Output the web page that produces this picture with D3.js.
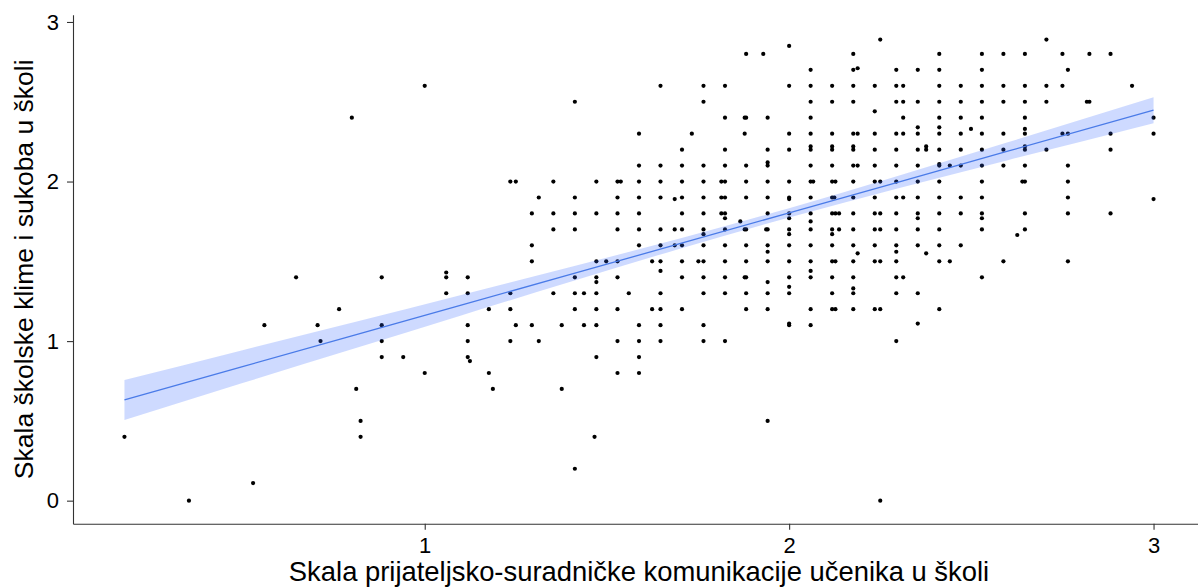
<!DOCTYPE html>
<html><head><meta charset="utf-8">
<script src="https://cdn.jsdelivr.net/npm/d3@7"></script>
<style>body{margin:0;background:#fff}svg{display:block}</style>
</head><body><svg id="c" width="1198" height="588"></svg>
<script>
const xTicks = [1, 2, 3];
const yTicks = [0, 1, 2, 3];
const xTitle = "Skala prijateljsko-suradničke komunikacije učenika u školi";
const yTitle = "Skala školske klime i sukoba u školi";

const points = [
[0.176,0.4],[0.353,0],[0.529,0.11],[0.56,1.1],[0.647,1.4],[0.706,1.1],[0.714,1.0],[0.765,1.2],[0.8,2.4],[0.812,0.7],[0.824,0.5],[0.824,0.4],[0.882,1.4],[0.882,1.1],[0.882,1.0],[0.882,0.9],[0.941,0.9],
[1.0,2.6],[1.0,0.8],
[1.059,1.43],[1.059,1.4],[1.059,1.3],
[1.118,1.4],[1.118,1.3],[1.118,1.1],[1.118,1.0],[1.118,0.9],[1.124,0.875],
[1.176,1.2],[1.176,0.8],[1.187,0.7],
[1.235,2.0],[1.235,1.3],[1.235,1.2],[1.235,1.0],[1.25,2.0],[1.25,1.1],
[1.294,1.8],[1.294,1.6],[1.294,1.5],[1.294,1.1],[1.313,1.9],[1.313,1.0],
[1.353,2.0],[1.353,1.8],[1.353,1.7],[1.353,1.3],[1.376,1.1],[1.376,0.7],
[1.412,2.5],[1.412,1.9],[1.412,1.8],[1.412,1.7],[1.412,1.4],[1.412,1.3],[1.412,1.2],[1.412,0.2],
[1.437,1.3],[1.437,1.1],
[1.471,2.0],[1.471,1.8],[1.471,1.5],[1.471,1.4],[1.471,1.37],[1.471,1.3],[1.471,1.2],[1.471,1.1],[1.471,0.9],[1.466,0.4],[1.498,1.5],
[1.529,2.0],[1.529,1.9],[1.529,1.8],[1.529,1.7],[1.529,1.5],[1.529,1.4],[1.529,1.2],[1.529,1.0],[1.529,0.8],[1.538,2.0],[1.56,1.3],
[1.588,2.3],[1.588,2.1],[1.588,2.0],[1.588,1.9],[1.588,1.8],[1.588,1.7],[1.588,1.6],[1.588,1.1],[1.588,1.0],[1.588,0.9],[1.588,0.8],
[1.624,1.5],[1.624,1.2],
[1.647,2.6],[1.647,2.1],[1.647,2.0],[1.647,1.9],[1.647,1.7],[1.647,1.6],[1.647,1.5],[1.647,1.44],[1.647,1.3],[1.647,1.2],[1.647,1.1],[1.647,1.0],
[1.686,1.89],[1.686,1.7],[1.686,1.6],
[1.706,2.2],[1.706,2.1],[1.706,2.0],[1.706,1.9],[1.706,1.8],[1.706,1.7],[1.706,1.6],[1.706,1.5],[1.706,1.4],[1.706,1.2],
[1.733,2.3],[1.751,1.5],
[1.765,2.6],[1.765,2.5],[1.765,2.1],[1.765,2.0],[1.765,1.9],[1.765,1.8],[1.765,1.7],[1.765,1.67],[1.765,1.6],[1.765,1.5],[1.765,1.4],[1.765,1.3],[1.765,1.1],[1.765,1.0],
[1.814,2.0],[1.814,1.9],[1.814,1.8],
[1.824,2.6],[1.824,2.4],[1.824,2.2],[1.824,2.1],[1.824,2.0],[1.824,1.9],[1.824,1.8],[1.824,1.77],[1.824,1.7],[1.824,1.6],[1.824,1.5],[1.824,1.4],[1.824,1.3],[1.824,1.0],
[1.866,1.75],
[1.878,2.4],[1.878,2.3],[1.878,1.7],[1.878,1.4],
[1.882,2.8],[1.882,2.4],[1.882,2.1],[1.882,2.0],[1.882,1.9],[1.882,1.7],[1.882,1.6],[1.882,1.5],[1.882,1.4],[1.882,1.3],[1.882,1.2],
[1.929,2.8],[1.937,1.7],
[1.941,2.4],[1.941,2.2],[1.941,2.12],[1.941,2.1],[1.941,2.0],[1.941,1.9],[1.941,1.8],[1.941,1.7],[1.941,1.6],[1.941,1.56],[1.941,1.5],[1.941,1.37],[1.941,1.3],[1.941,1.2],[1.941,0.5],
[2.0,2.85],[2.0,2.6],[2.0,2.3],[2.0,2.2],[2.0,2.0],[2.0,1.9],[2.0,1.89],[2.0,1.8],[2.0,1.77],[2.0,1.7],[2.0,1.67],[2.0,1.6],[2.0,1.5],[2.0,1.4],[2.0,1.34],[2.0,1.3],[2.0,1.11],[2.0,1.1],
[2.059,2.7],[2.059,2.6],[2.059,2.5],[2.059,2.4],[2.059,2.3],[2.059,2.22],[2.059,2.2],[2.059,2.1],[2.059,2.0],[2.059,1.9],[2.059,1.8],[2.059,1.75],[2.059,1.7],[2.059,1.6],[2.059,1.5],[2.059,1.44],[2.059,1.4],[2.059,1.2],[2.059,1.1],[2.066,2.0],
[2.118,2.6],[2.118,2.5],[2.118,2.3],[2.118,2.22],[2.118,2.2],[2.118,2.1],[2.118,2.0],[2.118,1.9],[2.118,1.8],[2.118,1.7],[2.118,1.67],[2.118,1.6],[2.118,1.5],[2.118,1.4],[2.118,1.3],[2.118,1.2],
[2.124,1.9],[2.127,2.0],[2.127,1.8],[2.127,1.5],[2.127,1.2],[2.137,1.8],[2.137,1.7],
[2.176,2.8],[2.176,2.7],[2.176,2.6],[2.176,2.5],[2.176,2.3],[2.176,2.22],[2.176,2.2],[2.176,2.1],[2.176,2.0],[2.176,1.9],[2.176,1.8],[2.176,1.7],[2.176,1.6],[2.176,1.5],[2.176,1.4],[2.176,1.33],[2.176,1.3],[2.176,1.2],
[2.188,2.71],[2.188,2.3],[2.188,2.1],[2.188,1.55],
[2.235,2.6],[2.235,2.44],[2.235,2.3],[2.235,2.2],[2.235,2.1],[2.235,2.0],[2.235,1.9],[2.235,1.8],[2.235,1.7],[2.235,1.6],[2.235,1.5],[2.235,1.2],
[2.25,2.89],[2.25,2.0],[2.25,1.8],[2.25,1.7],[2.25,1.5],[2.25,1.2],[2.25,0],
[2.294,2.7],[2.294,2.6],[2.294,2.5],[2.294,2.3],[2.294,2.2],[2.294,2.1],[2.294,2.0],[2.294,1.9],[2.294,1.8],[2.294,1.7],[2.294,1.6],[2.294,1.56],[2.294,1.5],[2.294,1.4],[2.294,1.3],[2.294,1.0],
[2.313,2.6],[2.313,2.5],[2.313,2.4],[2.313,2.3],[2.313,1.9],[2.313,1.4],
[2.353,2.7],[2.353,2.5],[2.353,2.34],[2.353,2.3],[2.353,2.2],[2.353,2.1],[2.353,2.0],[2.353,1.9],[2.353,1.8],[2.353,1.77],[2.353,1.7],[2.353,1.6],[2.353,1.3],[2.353,1.11],
[2.376,2.22],[2.376,2.2],[2.376,1.55],
[2.412,2.8],[2.412,2.7],[2.412,2.6],[2.412,2.5],[2.412,2.4],[2.412,2.34],[2.412,2.3],[2.412,2.2],[2.412,2.11],[2.412,2.1],[2.412,2.0],[2.412,1.9],[2.412,1.8],[2.412,1.7],[2.412,1.6],[2.412,1.5],[2.412,1.2],
[2.441,2.1],[2.441,1.5],
[2.471,2.6],[2.471,2.5],[2.471,2.4],[2.471,2.3],[2.471,2.2],[2.471,2.1],[2.471,1.9],[2.471,1.8],[2.471,1.6],
[2.499,2.33],
[2.529,2.8],[2.529,2.7],[2.529,2.6],[2.529,2.5],[2.529,2.4],[2.529,2.3],[2.529,2.2],[2.529,2.1],[2.529,2.0],[2.529,1.9],[2.529,1.8],[2.529,1.77],[2.529,1.7],[2.529,1.4],
[2.588,2.8],[2.588,2.6],[2.588,2.5],[2.588,2.3],[2.588,2.2],[2.588,2.1],[2.588,1.5],
[2.626,1.665],[2.64,2.0],
[2.647,2.8],[2.647,2.6],[2.647,2.5],[2.647,2.4],[2.647,2.33],[2.647,2.3],[2.647,2.22],[2.647,2.2],[2.647,2.1],[2.647,2.0],[2.647,1.8],[2.647,1.7],
[2.706,2.89],[2.706,2.6],[2.706,2.5],[2.706,2.2],
[2.75,2.8],[2.75,2.6],[2.75,2.3],
[2.765,2.7],[2.765,2.3],[2.765,2.1],[2.765,2.0],[2.765,1.9],[2.765,1.8],[2.765,1.5],
[2.817,2.5],[2.824,2.8],[2.824,2.5],
[2.882,2.8],[2.882,2.3],[2.882,2.2],[2.882,1.8],
[2.941,2.6],
[3.0,2.4],[3.0,2.3],[3.0,1.89]
];

// fitted line and confidence band
const fitX    = [0.176, 0.5,   0.8,   1.1,   1.4,   1.7,   2.0,   2.3,   2.6,   3.0];
const fitY    = [0.631, 0.840, 1.032, 1.225, 1.418, 1.611, 1.804, 1.997, 2.190, 2.447];
const fitLow  = [0.506, 0.737, 0.949, 1.161, 1.372, 1.579, 1.775, 1.958, 2.134, 2.366];
const fitHigh = [0.756, 0.943, 1.115, 1.289, 1.464, 1.643, 1.833, 2.036, 2.246, 2.528];

const fitData = fitX.map((v, i) => ({x: v, y: fitY[i], lo: fitLow[i], hi: fitHigh[i]}));

const svg = d3.select("#c");
const left = 73, bottom = 523.8;

const x = d3.scaleLinear().domain([0.0348, 3.1412]).range([left, 1205]);
const y = d3.scaleLinear().domain([-0.145, 3.045]).range([bottom, 14.8]);

const font = "'Liberation Sans', Arial, Helvetica, sans-serif";

// points
svg.append("g").selectAll("circle").data(points).join("circle")
  .attr("cx", d => x(d[0])).attr("cy", d => y(d[1]))
  .attr("r", 2.1).attr("fill", "#000");

// confidence band
svg.append("path").datum(fitData)
  .attr("d", d3.area().x(d => x(d.x)).y0(d => y(d.lo)).y1(d => y(d.hi)).curve(d3.curveMonotoneX))
  .attr("fill", "#3366FF").attr("fill-opacity", 0.24);

// fitted line
svg.append("path").datum(fitData)
  .attr("d", d3.line().x(d => x(d.x)).y(d => y(d.y)))
  .attr("fill", "none").attr("stroke", "#4a7be8").attr("stroke-width", 1.3);

// axes
const gy = svg.append("g").attr("transform", `translate(${left},0)`)
  .call(d3.axisLeft(y).tickValues(yTicks).tickFormat(d3.format("d")).tickSize(6).tickSizeOuter(0).tickPadding(8));
const gx = svg.append("g").attr("transform", `translate(0,${bottom})`)
  .call(d3.axisBottom(x).tickValues(xTicks).tickFormat(d3.format("d")).tickSize(6).tickSizeOuter(0).tickPadding(8));

[gx, gy].forEach(g => {
  g.select(".domain").attr("stroke", "#333").attr("stroke-width", 1.1);
  g.selectAll(".tick line").attr("stroke", "#333").attr("stroke-width", 1.1);
  g.selectAll(".tick text").attr("fill", "#000").style("font-family", font).style("font-size", "22px");
});

// axis titles
svg.append("text")
  .attr("x", (left + 1205) / 2).attr("y", 581)
  .attr("text-anchor", "middle")
  .style("font-family", font).style("font-size", "27.4px").attr("fill", "#000")
  .text(xTitle);

svg.append("text")
  .attr("transform", `translate(33,${(bottom + 14.8) / 2}) rotate(-90)`)
  .attr("text-anchor", "middle")
  .style("font-family", font).style("font-size", "26.5px").attr("fill", "#000")
  .text(yTitle);
</script>
</body></html>
